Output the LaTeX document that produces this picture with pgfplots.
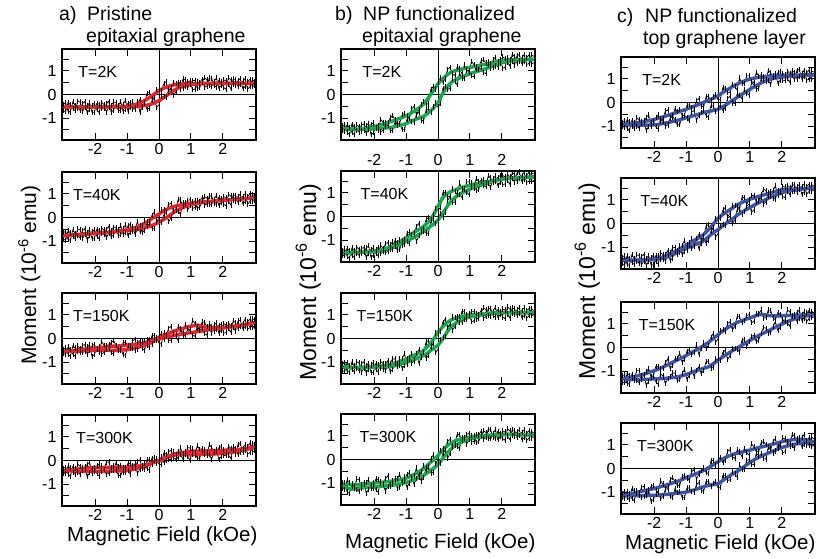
\documentclass[border=0pt]{standalone}
\usepackage{pgfplots}
\pgfplotsset{compat=1.18}
\usepackage{pgfplotstable}
\usepackage{fontspec}
\setmainfont{Liberation Sans}
\definecolor{fred}{RGB}{236,32,38}
\definecolor{fgreen}{RGB}{16,170,76}
\definecolor{fblue}{RGB}{58,84,168}

% ---------- fitted loops (x, upper branch, lower branch) ----------
\pgfplotstableread{
x fu fd
-3.00 -0.53 -0.53
-2.85 -0.53 -0.53
-2.70 -0.53 -0.53
-2.55 -0.53 -0.53
-2.40 -0.53 -0.53
-2.25 -0.53 -0.53
-2.10 -0.53 -0.53
-1.95 -0.53 -0.53
-1.80 -0.53 -0.53
-1.65 -0.53 -0.53
-1.50 -0.52 -0.53
-1.35 -0.52 -0.53
-1.20 -0.51 -0.53
-1.05 -0.50 -0.52
-0.90 -0.47 -0.52
-0.75 -0.43 -0.51
-0.60 -0.36 -0.50
-0.45 -0.26 -0.47
-0.30 -0.13 -0.43
-0.15 0.02 -0.36
0.00 0.16 -0.26
0.15 0.27 -0.13
0.30 0.35 0.02
0.45 0.40 0.16
0.60 0.43 0.27
0.75 0.45 0.35
0.90 0.46 0.40
1.05 0.46 0.43
1.20 0.47 0.45
1.35 0.47 0.46
1.50 0.47 0.46
1.65 0.47 0.47
1.80 0.47 0.47
1.95 0.47 0.47
2.10 0.47 0.47
2.25 0.47 0.47
2.40 0.47 0.47
2.55 0.47 0.47
2.70 0.47 0.47
2.85 0.47 0.47
3.00 0.47 0.47
}\fAa
\pgfplotstableread{
x fu fd
-3.00 -0.77 -0.77
-2.85 -0.76 -0.76
-2.70 -0.74 -0.74
-2.55 -0.73 -0.73
-2.40 -0.71 -0.71
-2.25 -0.70 -0.70
-2.10 -0.68 -0.68
-1.95 -0.66 -0.67
-1.80 -0.65 -0.65
-1.65 -0.63 -0.64
-1.50 -0.61 -0.62
-1.35 -0.59 -0.60
-1.20 -0.56 -0.58
-1.05 -0.53 -0.56
-0.90 -0.48 -0.54
-0.75 -0.43 -0.52
-0.60 -0.35 -0.48
-0.45 -0.25 -0.44
-0.30 -0.12 -0.38
-0.15 0.02 -0.30
0.00 0.15 -0.20
0.15 0.28 -0.08
0.30 0.38 0.06
0.45 0.46 0.20
0.60 0.51 0.32
0.75 0.56 0.42
0.90 0.59 0.50
1.05 0.62 0.56
1.20 0.64 0.60
1.35 0.66 0.64
1.50 0.68 0.66
1.65 0.69 0.68
1.80 0.71 0.70
1.95 0.73 0.72
2.10 0.74 0.74
2.25 0.76 0.76
2.40 0.77 0.77
2.55 0.79 0.79
2.70 0.80 0.80
2.85 0.82 0.82
3.00 0.83 0.83
}\fAb
\pgfplotstableread{
x fu fd
-3.00 -0.55 -0.55
-2.85 -0.53 -0.54
-2.70 -0.51 -0.54
-2.55 -0.49 -0.53
-2.40 -0.46 -0.52
-2.25 -0.44 -0.51
-2.10 -0.41 -0.51
-1.95 -0.39 -0.50
-1.80 -0.37 -0.50
-1.65 -0.35 -0.50
-1.50 -0.33 -0.50
-1.35 -0.32 -0.50
-1.20 -0.31 -0.49
-1.05 -0.29 -0.48
-0.90 -0.27 -0.45
-0.75 -0.25 -0.40
-0.60 -0.22 -0.35
-0.45 -0.18 -0.30
-0.30 -0.14 -0.20
-0.15 -0.05 -0.11
0.00 0.05 -0.02
0.15 0.13 0.03
0.30 0.22 0.07
0.45 0.30 0.12
0.60 0.37 0.16
0.75 0.43 0.20
0.90 0.49 0.23
1.05 0.53 0.26
1.20 0.57 0.29
1.35 0.52 0.32
1.50 0.46 0.36
1.65 0.45 0.39
1.80 0.46 0.42
1.95 0.47 0.45
2.10 0.49 0.47
2.25 0.51 0.49
2.40 0.53 0.51
2.55 0.56 0.55
2.70 0.60 0.59
2.85 0.63 0.63
3.00 0.67 0.67
}\fAc
\pgfplotstableread{
x fu fd
-3.00 -0.43 -0.43
-2.85 -0.41 -0.44
-2.70 -0.38 -0.45
-2.55 -0.36 -0.45
-2.40 -0.34 -0.46
-2.25 -0.32 -0.46
-2.10 -0.30 -0.46
-1.95 -0.29 -0.46
-1.80 -0.29 -0.46
-1.65 -0.29 -0.45
-1.50 -0.29 -0.45
-1.35 -0.29 -0.44
-1.20 -0.28 -0.44
-1.05 -0.28 -0.43
-0.90 -0.27 -0.40
-0.75 -0.25 -0.35
-0.60 -0.22 -0.30
-0.45 -0.19 -0.24
-0.30 -0.14 -0.16
-0.15 -0.06 -0.08
0.00 0.02 -0.02
0.15 0.11 0.07
0.30 0.18 0.15
0.45 0.27 0.22
0.60 0.31 0.25
0.75 0.34 0.25
0.90 0.37 0.24
1.05 0.40 0.24
1.20 0.40 0.25
1.35 0.41 0.26
1.50 0.41 0.27
1.65 0.42 0.27
1.80 0.42 0.28
1.95 0.43 0.29
2.10 0.44 0.31
2.25 0.45 0.34
2.40 0.46 0.37
2.55 0.48 0.41
2.70 0.51 0.46
2.85 0.54 0.51
3.00 0.57 0.57
}\fAd
\pgfplotstableread{
x fu fd
-3.00 -1.43 -1.43
-2.85 -1.45 -1.46
-2.70 -1.46 -1.48
-2.55 -1.47 -1.48
-2.40 -1.45 -1.48
-2.25 -1.42 -1.47
-2.10 -1.38 -1.46
-1.95 -1.34 -1.45
-1.80 -1.29 -1.43
-1.65 -1.23 -1.42
-1.50 -1.16 -1.40
-1.35 -1.09 -1.36
-1.20 -1.01 -1.31
-1.05 -0.94 -1.26
-0.90 -0.84 -1.17
-0.75 -0.71 -1.08
-0.60 -0.57 -1.00
-0.45 -0.40 -0.92
-0.30 -0.14 -0.78
-0.15 0.15 -0.58
0.00 0.45 -0.35
0.15 0.68 0.05
0.30 0.85 0.35
0.45 0.97 0.55
0.60 1.03 0.65
0.75 1.08 0.74
0.90 1.13 0.83
1.05 1.16 0.91
1.20 1.20 0.97
1.35 1.25 1.03
1.50 1.29 1.10
1.65 1.33 1.17
1.80 1.38 1.25
1.95 1.43 1.33
2.10 1.45 1.37
2.25 1.46 1.41
2.40 1.47 1.44
2.55 1.47 1.45
2.70 1.48 1.47
2.85 1.49 1.48
3.00 1.50 1.50
}\fBa
\pgfplotstableread{
x fu fd
-3.00 -1.54 -1.54
-2.85 -1.53 -1.54
-2.70 -1.52 -1.54
-2.55 -1.51 -1.53
-2.40 -1.50 -1.52
-2.25 -1.49 -1.51
-2.10 -1.48 -1.50
-1.95 -1.46 -1.48
-1.80 -1.42 -1.45
-1.65 -1.37 -1.41
-1.50 -1.30 -1.36
-1.35 -1.20 -1.29
-1.20 -1.08 -1.20
-1.05 -0.94 -1.09
-0.90 -0.80 -0.99
-0.75 -0.67 -0.88
-0.60 -0.55 -0.76
-0.45 -0.42 -0.63
-0.30 -0.22 -0.48
-0.15 0.05 -0.33
0.00 0.44 -0.15
0.15 0.80 0.14
0.30 0.98 0.45
0.45 1.08 0.71
0.60 1.16 0.87
0.75 1.23 1.00
0.90 1.29 1.10
1.05 1.35 1.19
1.20 1.39 1.26
1.35 1.43 1.33
1.50 1.47 1.40
1.65 1.50 1.46
1.80 1.53 1.52
1.95 1.57 1.57
2.10 1.60 1.60
2.25 1.62 1.62
2.40 1.64 1.64
2.55 1.65 1.65
2.70 1.66 1.66
2.85 1.67 1.67
3.00 1.68 1.68
}\fBb
\pgfplotstableread{
x fu fd
-3.00 -1.20 -1.20
-2.85 -1.21 -1.22
-2.70 -1.22 -1.23
-2.55 -1.22 -1.24
-2.40 -1.22 -1.24
-2.25 -1.21 -1.23
-2.10 -1.20 -1.22
-1.95 -1.19 -1.21
-1.80 -1.17 -1.21
-1.65 -1.14 -1.21
-1.50 -1.10 -1.20
-1.35 -1.04 -1.16
-1.20 -0.97 -1.10
-1.05 -0.90 -1.04
-0.90 -0.81 -0.97
-0.75 -0.71 -0.89
-0.60 -0.62 -0.81
-0.45 -0.50 -0.72
-0.30 -0.30 -0.58
-0.15 -0.05 -0.43
0.00 0.26 -0.28
0.15 0.50 -0.02
0.30 0.69 0.30
0.45 0.81 0.55
0.60 0.89 0.68
0.75 0.94 0.78
0.90 0.98 0.88
1.05 1.01 0.94
1.20 1.03 0.97
1.35 1.05 1.00
1.50 1.07 1.03
1.65 1.08 1.05
1.80 1.09 1.07
1.95 1.10 1.08
2.10 1.10 1.09
2.25 1.10 1.10
2.40 1.10 1.10
2.55 1.10 1.10
2.70 1.10 1.10
2.85 1.10 1.10
3.00 1.10 1.10
}\fBc
\pgfplotstableread{
x fu fd
-3.00 -1.07 -1.08
-2.85 -1.07 -1.20
-2.70 -1.07 -1.26
-2.55 -1.07 -1.22
-2.40 -1.05 -1.20
-2.25 -1.03 -1.18
-2.10 -1.01 -1.17
-1.95 -0.99 -1.16
-1.80 -0.97 -1.14
-1.65 -0.95 -1.12
-1.50 -0.93 -1.11
-1.35 -0.90 -1.07
-1.20 -0.86 -1.03
-1.05 -0.81 -0.99
-0.90 -0.74 -0.93
-0.75 -0.63 -0.86
-0.60 -0.53 -0.77
-0.45 -0.38 -0.67
-0.30 -0.20 -0.53
-0.15 -0.02 -0.38
0.00 0.17 -0.21
0.15 0.40 0.05
0.30 0.60 0.30
0.45 0.73 0.50
0.60 0.82 0.63
0.75 0.88 0.74
0.90 0.93 0.83
1.05 0.97 0.89
1.20 0.99 0.93
1.35 1.01 0.96
1.50 1.03 0.99
1.65 1.04 1.01
1.80 1.05 1.03
1.95 1.06 1.05
2.10 1.07 1.06
2.25 1.07 1.07
2.40 1.07 1.07
2.55 1.06 1.06
2.70 1.05 1.05
2.85 1.04 1.04
3.00 1.03 1.03
}\fBd
\pgfplotstableread{
x fu fd
-3.00 -0.93 -0.93
-2.85 -0.91 -0.95
-2.70 -0.89 -0.96
-2.55 -0.86 -0.96
-2.40 -0.82 -0.96
-2.25 -0.79 -0.96
-2.10 -0.75 -0.95
-1.95 -0.70 -0.94
-1.80 -0.64 -0.91
-1.65 -0.58 -0.87
-1.50 -0.51 -0.83
-1.35 -0.45 -0.78
-1.20 -0.38 -0.73
-1.05 -0.31 -0.67
-0.90 -0.24 -0.61
-0.75 -0.16 -0.55
-0.60 -0.08 -0.49
-0.45 0.01 -0.43
-0.30 0.09 -0.38
-0.15 0.18 -0.34
0.00 0.29 -0.29
0.15 0.42 -0.18
0.30 0.55 -0.05
0.45 0.67 0.08
0.60 0.78 0.22
0.75 0.87 0.35
0.90 0.95 0.47
1.05 1.01 0.60
1.20 1.05 0.72
1.35 1.08 0.83
1.50 1.11 0.92
1.65 1.13 0.99
1.80 1.14 1.04
1.95 1.15 1.07
2.10 1.15 1.09
2.25 1.16 1.11
2.40 1.16 1.13
2.55 1.16 1.14
2.70 1.17 1.15
2.85 1.17 1.16
3.00 1.17 1.17
}\fCa
\pgfplotstableread{
x fu fd
-3.00 -1.56 -1.56
-2.85 -1.56 -1.57
-2.70 -1.55 -1.57
-2.55 -1.55 -1.57
-2.40 -1.54 -1.56
-2.25 -1.53 -1.55
-2.10 -1.52 -1.54
-1.95 -1.50 -1.52
-1.80 -1.45 -1.49
-1.65 -1.38 -1.44
-1.50 -1.29 -1.37
-1.35 -1.19 -1.28
-1.20 -1.09 -1.18
-1.05 -0.96 -1.08
-0.90 -0.84 -1.00
-0.75 -0.72 -0.91
-0.60 -0.60 -0.83
-0.45 -0.46 -0.74
-0.30 -0.27 -0.56
-0.15 -0.03 -0.40
0.00 0.21 -0.26
0.15 0.38 -0.10
0.30 0.52 0.05
0.45 0.65 0.19
0.60 0.79 0.35
0.75 0.89 0.48
0.90 0.98 0.60
1.05 1.05 0.72
1.20 1.12 0.83
1.35 1.18 0.93
1.50 1.24 1.02
1.65 1.30 1.12
1.80 1.36 1.20
1.95 1.42 1.29
2.10 1.44 1.35
2.25 1.45 1.39
2.40 1.46 1.42
2.55 1.47 1.45
2.70 1.48 1.47
2.85 1.49 1.49
3.00 1.50 1.50
}\fCb
\pgfplotstableread{
x fu fd
-3.00 -1.32 -1.32
-2.85 -1.29 -1.34
-2.70 -1.25 -1.35
-2.55 -1.21 -1.36
-2.40 -1.16 -1.36
-2.25 -1.10 -1.35
-2.10 -1.03 -1.34
-1.95 -0.96 -1.33
-1.80 -0.87 -1.32
-1.65 -0.78 -1.31
-1.50 -0.68 -1.29
-1.35 -0.58 -1.26
-1.20 -0.48 -1.22
-1.05 -0.38 -1.17
-0.90 -0.26 -1.10
-0.75 -0.15 -1.02
-0.60 -0.04 -0.95
-0.45 0.08 -0.88
-0.30 0.22 -0.82
-0.15 0.38 -0.69
0.00 0.54 -0.54
0.15 0.70 -0.40
0.30 0.84 -0.27
0.45 0.96 -0.14
0.60 1.06 -0.02
0.75 1.14 0.10
0.90 1.21 0.22
1.05 1.28 0.34
1.20 1.36 0.45
1.35 1.40 0.56
1.50 1.38 0.66
1.65 1.35 0.76
1.80 1.34 0.86
1.95 1.34 0.96
2.10 1.35 1.06
2.25 1.36 1.14
2.40 1.37 1.21
2.55 1.38 1.27
2.70 1.38 1.32
2.85 1.39 1.36
3.00 1.39 1.39
}\fCc
\pgfplotstableread{
x fu fd
-3.00 -1.14 -1.14
-2.85 -1.10 -1.15
-2.70 -1.06 -1.15
-2.55 -1.01 -1.15
-2.40 -0.97 -1.15
-2.25 -0.92 -1.15
-2.10 -0.88 -1.14
-1.95 -0.83 -1.14
-1.80 -0.77 -1.12
-1.65 -0.71 -1.10
-1.50 -0.65 -1.08
-1.35 -0.58 -1.06
-1.20 -0.51 -1.04
-1.05 -0.42 -1.01
-0.90 -0.34 -0.97
-0.75 -0.26 -0.91
-0.60 -0.17 -0.84
-0.45 -0.08 -0.77
-0.30 0.03 -0.72
-0.15 0.16 -0.68
0.00 0.29 -0.64
0.15 0.41 -0.51
0.30 0.51 -0.37
0.45 0.59 -0.24
0.60 0.65 -0.12
0.75 0.70 0.01
0.90 0.75 0.16
1.05 0.80 0.30
1.20 0.86 0.42
1.35 0.91 0.52
1.50 0.96 0.61
1.65 1.01 0.70
1.80 1.06 0.78
1.95 1.12 0.87
2.10 1.17 0.93
2.25 1.20 0.98
2.40 1.23 1.03
2.55 1.24 1.06
2.70 1.22 1.09
2.85 1.18 1.10
3.00 1.14 1.14
}\fCd

% ---------- measured data (x, upper sweep, lower sweep) ----------
\pgfplotstableread{
x nu nd
-3.00 -0.41 -0.68
-2.925 -0.35 -0.73
-2.85 -0.71 -0.33
-2.775 -0.74 -0.44
-2.70 -0.31 -0.61
-2.625 -0.46 -0.69
-2.55 -0.58 -0.29
-2.475 -0.67 -0.32
-2.40 -0.38 -0.72
-2.325 -0.30 -0.56
-2.25 -0.78 -0.46
-2.175 -0.62 -0.36
-2.10 -0.45 -0.75
-2.025 -0.37 -0.76
-1.95 -0.65 -0.37
-1.875 -0.77 -0.41
-1.80 -0.33 -0.57
-1.725 -0.42 -0.61
-1.65 -0.75 -0.40
-1.575 -0.55 -0.28
-1.50 -0.47 -0.74
-1.425 -0.32 -0.67
-1.35 -0.34 -0.43
-1.275 -0.69 -0.47
-1.20 -0.66 -0.30
-1.125 -0.41 -0.71
-1.05 -0.25 -0.64
-0.975 -0.70 -0.37
-0.90 -0.55 -0.34
-0.825 -0.31 -0.63
-0.75 -0.63 -0.57
-0.675 -0.38 -0.28
-0.60 -0.22 -0.74
-0.525 -0.50 -0.53
-0.45 -0.36 -0.36
-0.375 0.05 -0.63
-0.30 0.09 -0.57
-0.225 -0.17 -0.27
-0.15 -0.14 -0.15
-0.075 0.22 -0.55
0.00 0.22 -0.44
0.075 0.15 -0.10
0.15 0.46 -0.08
0.225 0.53 -0.13
0.30 0.11 0.19
0.375 0.23 0.28
0.45 0.50 -0.04
0.525 0.47 0.10
0.60 0.37 0.52
0.675 0.21 0.51
0.75 0.66 0.26
0.825 0.63 0.36
0.90 0.29 0.54
0.975 0.44 0.58
1.05 0.59 0.20
1.125 0.59 0.23
1.20 0.26 0.53
1.275 0.29 0.50
1.35 0.51 0.65
1.425 0.71 0.31
1.50 0.63 0.35
1.575 0.37 0.70
1.65 0.34 0.69
1.725 0.55 0.38
1.80 0.71 0.31
1.875 0.27 0.61
1.95 0.38 0.53
2.025 0.62 0.30
2.10 0.58 0.22
2.175 0.41 0.71
2.25 0.24 0.62
2.325 0.66 0.43
2.40 0.64 0.40
2.475 0.34 0.58
2.55 0.43 0.68
2.625 0.57 0.25
2.70 0.67 0.34
2.775 0.23 0.55
2.85 0.33 0.65
2.925 0.63 0.34
3.00 0.56 0.37
}\nAa
\pgfplotstableread{
x nu nd
-3.00 -0.92 -0.65
-2.925 -0.96 -0.58
-2.85 -0.56 -0.94
-2.775 -0.66 -0.96
-2.70 -0.82 -0.52
-2.625 -0.90 -0.67
-2.55 -0.49 -0.78
-2.475 -0.51 -0.86
-2.40 -0.90 -0.56
-2.325 -0.73 -0.47
-2.25 -0.63 -0.95
-2.175 -0.52 -0.78
-2.10 -0.90 -0.60
-2.025 -0.90 -0.52
-1.95 -0.50 -0.79
-1.875 -0.54 -0.90
-1.80 -0.69 -0.45
-1.725 -0.72 -0.53
-1.65 -0.50 -0.86
-1.575 -0.37 -0.66
-1.50 -0.82 -0.57
-1.425 -0.74 -0.41
-1.35 -0.49 -0.42
-1.275 -0.52 -0.76
-1.20 -0.33 -0.73
-1.125 -0.73 -0.48
-1.05 -0.65 -0.31
-0.975 -0.35 -0.77
-0.90 -0.30 -0.62
-0.825 -0.57 -0.39
-0.75 -0.49 -0.72
-0.675 -0.17 -0.48
-0.60 -0.59 -0.34
-0.525 -0.35 -0.65
-0.45 -0.14 -0.54
-0.375 -0.36 -0.16
-0.30 -0.26 -0.16
-0.225 0.08 -0.45
-0.15 0.23 -0.46
-0.075 -0.16 -0.12
0.00 -0.03 -0.14
0.075 0.32 -0.21
0.15 0.33 0.11
0.225 0.26 0.21
0.30 0.55 -0.18
0.375 0.61 -0.02
0.45 0.26 0.30
0.525 0.36 0.31
0.60 0.76 0.26
0.675 0.74 0.14
0.75 0.47 0.63
0.825 0.56 0.63
0.90 0.73 0.33
0.975 0.76 0.51
1.05 0.39 0.69
1.125 0.42 0.70
1.20 0.72 0.39
1.275 0.69 0.44
1.35 0.85 0.68
1.425 0.52 0.89
1.50 0.57 0.82
1.575 0.91 0.57
1.65 0.91 0.55
1.725 0.61 0.77
1.80 0.55 0.94
1.875 0.86 0.51
1.95 0.79 0.63
2.025 0.57 0.88
2.10 0.49 0.85
2.175 0.99 0.69
2.25 0.91 0.53
2.325 0.72 0.95
2.40 0.70 0.94
2.475 0.89 0.65
2.55 1.00 0.75
2.625 0.58 0.90
2.70 0.67 1.00
2.775 0.89 0.57
2.85 1.00 0.68
2.925 0.69 0.98
3.00 0.73 0.92
}\nAb
\pgfplotstableread{
x nu nd
-3.00 -0.46 -0.65
-2.925 -0.38 -0.67
-2.85 -0.67 -0.36
-2.775 -0.76 -0.46
-2.70 -0.31 -0.67
-2.625 -0.40 -0.75
-2.55 -0.53 -0.32
-2.475 -0.61 -0.41
-2.40 -0.29 -0.59
-2.325 -0.26 -0.55
-2.25 -0.67 -0.36
-2.175 -0.49 -0.27
-2.10 -0.30 -0.76
-2.025 -0.25 -0.67
-1.95 -0.48 -0.44
-1.875 -0.58 -0.36
-1.80 -0.13 -0.66
-1.725 -0.28 -0.59
-1.65 -0.48 -0.28
-1.575 -0.44 -0.27
-1.50 -0.17 -0.61
-1.425 -0.09 -0.65
-1.35 -0.28 -0.31
-1.275 -0.50 -0.45
-1.20 -0.52 -0.41
-1.125 -0.18 -0.69
-1.05 -0.16 -0.71
-0.975 -0.30 -0.30
-0.90 -0.44 -0.31
-0.825 -0.09 -0.44
-0.75 -0.04 -0.49
-0.675 -0.47 -0.18
-0.60 -0.28 -0.10
-0.525 -0.15 -0.44
-0.45 -0.08 -0.50
-0.375 -0.31 -0.06
-0.30 -0.38 -0.03
-0.225 0.12 -0.23
-0.15 0.14 -0.06
-0.075 -0.07 0.04
0.00 0.11 -0.20
0.075 0.22 -0.24
0.15 -0.03 0.24
0.225 0.07 0.18
0.30 0.44 -0.07
0.375 0.51 -0.08
0.45 0.20 0.23
0.525 0.15 0.09
0.60 0.51 -0.08
0.675 0.42 0.40
0.75 0.23 0.14
0.825 0.60 0.11
0.90 0.41 0.41
0.975 0.29 0.39
1.05 0.78 0.14
1.125 0.64 0.09
1.20 0.42 0.52
1.275 0.38 0.36
1.35 0.70 0.42
1.425 0.69 0.20
1.50 0.51 0.15
1.575 0.43 0.63
1.65 0.23 0.52
1.725 0.57 0.32
1.80 0.66 0.38
1.875 0.23 0.56
1.95 0.35 0.61
2.025 0.64 0.23
2.10 0.57 0.25
2.175 0.41 0.65
2.25 0.26 0.56
2.325 0.75 0.47
2.40 0.68 0.32
2.475 0.41 0.74
2.55 0.51 0.79
2.625 0.65 0.41
2.70 0.82 0.51
2.775 0.41 0.70
2.85 0.45 0.83
2.925 0.83 0.45
3.00 0.79 0.52
}\nAc
\pgfplotstableread{
x nu nd
-3.00 -0.53 -0.34
-2.925 -0.55 -0.28
-2.85 -0.23 -0.58
-2.775 -0.32 -0.68
-2.70 -0.51 -0.25
-2.625 -0.59 -0.35
-2.55 -0.15 -0.49
-2.475 -0.24 -0.59
-2.40 -0.41 -0.29
-2.325 -0.37 -0.27
-2.25 -0.17 -0.69
-2.175 -0.07 -0.52
-2.10 -0.55 -0.35
-2.025 -0.47 -0.31
-1.95 -0.23 -0.55
-1.875 -0.15 -0.66
-1.80 -0.45 -0.22
-1.725 -0.38 -0.38
-1.65 -0.07 -0.58
-1.575 -0.06 -0.55
-1.50 -0.40 -0.29
-1.425 -0.44 -0.20
-1.35 -0.10 -0.40
-1.275 -0.24 -0.62
-1.20 -0.20 -0.65
-1.125 -0.49 -0.32
-1.05 -0.51 -0.30
-0.975 -0.12 -0.44
-0.90 -0.13 -0.57
-0.825 -0.28 -0.21
-0.75 -0.34 -0.14
-0.675 -0.04 -0.55
-0.60 0.03 -0.36
-0.525 -0.32 -0.22
-0.45 -0.39 -0.14
-0.375 0.03 -0.35
-0.30 0.03 -0.40
-0.225 -0.17 0.10
-0.15 -0.01 0.11
-0.075 0.08 -0.12
0.00 -0.16 0.04
0.075 -0.18 0.15
0.15 0.32 -0.09
0.225 0.27 0.00
0.30 0.04 0.37
0.375 0.04 0.43
0.45 0.38 0.12
0.525 0.24 0.05
0.60 0.07 0.39
0.675 0.54 0.27
0.75 0.28 0.05
0.825 0.25 0.38
0.90 0.55 0.16
0.975 0.53 0.02
1.05 0.28 0.49
1.125 0.21 0.33
1.20 0.63 0.10
1.275 0.46 0.09
1.35 0.51 0.44
1.425 0.27 0.46
1.50 0.20 0.32
1.575 0.67 0.24
1.65 0.55 0.05
1.725 0.34 0.39
1.80 0.38 0.48
1.875 0.54 0.04
1.95 0.59 0.17
2.025 0.21 0.46
2.10 0.22 0.39
2.175 0.61 0.23
2.25 0.52 0.09
2.325 0.43 0.59
2.40 0.27 0.52
2.475 0.68 0.25
2.55 0.72 0.36
2.625 0.34 0.51
2.70 0.43 0.68
2.775 0.61 0.27
2.85 0.74 0.33
2.925 0.36 0.72
3.00 0.42 0.69
}\nAd
\pgfplotstableread{
x nu nd
-3.00 -1.34 -1.53
-2.925 -1.28 -1.57
-2.85 -1.59 -1.28
-2.775 -1.70 -1.39
-2.70 -1.26 -1.61
-2.625 -1.37 -1.70
-2.55 -1.51 -1.27
-2.475 -1.59 -1.37
-2.40 -1.28 -1.55
-2.325 -1.25 -1.51
-2.25 -1.65 -1.32
-2.175 -1.46 -1.22
-2.10 -1.27 -1.71
-2.025 -1.21 -1.62
-1.95 -1.43 -1.39
-1.875 -1.52 -1.30
-1.80 -1.05 -1.59
-1.725 -1.18 -1.51
-1.65 -1.36 -1.20
-1.575 -1.30 -1.18
-1.50 -1.00 -1.51
-1.425 -0.89 -1.53
-1.35 -1.05 -1.17
-1.275 -1.23 -1.29
-1.20 -1.22 -1.23
-1.125 -0.86 -1.49
-1.05 -0.81 -1.49
-0.975 -0.91 -1.05
-0.90 -1.01 -1.03
-0.825 -0.61 -1.14
-0.75 -0.50 -1.17
-0.675 -0.87 -0.84
-0.60 -0.63 -0.75
-0.525 -0.44 -1.08
-0.45 -0.30 -1.12
-0.375 -0.42 -0.66
-0.30 -0.38 -0.61
-0.225 0.22 -0.75
-0.15 0.34 -0.53
-0.075 0.23 -0.36
0.00 0.51 -0.53
0.075 0.70 -0.39
0.15 0.52 0.26
0.225 0.66 0.33
0.30 1.07 0.21
0.375 1.16 0.27
0.45 0.87 0.66
0.525 0.81 0.55
0.60 1.17 0.41
0.675 1.08 0.91
0.75 0.88 0.68
0.825 1.25 0.67
0.90 1.05 1.01
0.975 0.93 1.02
1.05 1.41 0.79
1.125 1.27 0.75
1.20 1.05 1.20
1.275 1.06 1.06
1.35 1.43 1.13
1.425 1.47 0.92
1.50 1.34 0.89
1.575 1.28 1.38
1.65 1.11 1.30
1.725 1.47 1.13
1.80 1.58 1.21
1.875 1.17 1.41
1.95 1.31 1.49
2.025 1.60 1.12
2.10 1.53 1.15
2.175 1.37 1.56
2.25 1.21 1.48
2.325 1.70 1.39
2.40 1.62 1.25
2.475 1.33 1.65
2.55 1.42 1.69
2.625 1.55 1.30
2.70 1.70 1.39
2.775 1.28 1.56
2.85 1.31 1.68
2.925 1.68 1.29
3.00 1.62 1.35
}\nBa
\pgfplotstableread{
x nu nd
-3.00 -1.64 -1.45
-2.925 -1.66 -1.38
-2.85 -1.35 -1.68
-2.775 -1.44 -1.78
-2.70 -1.65 -1.34
-2.625 -1.73 -1.43
-2.55 -1.30 -1.57
-2.475 -1.39 -1.65
-2.40 -1.57 -1.35
-2.325 -1.53 -1.32
-2.25 -1.34 -1.74
-2.175 -1.24 -1.56
-2.10 -1.73 -1.39
-2.025 -1.64 -1.34
-1.95 -1.40 -1.57
-1.875 -1.30 -1.66
-1.80 -1.58 -1.21
-1.725 -1.49 -1.35
-1.65 -1.15 -1.54
-1.575 -1.11 -1.48
-1.50 -1.41 -1.20
-1.425 -1.40 -1.08
-1.35 -1.01 -1.25
-1.275 -1.10 -1.42
-1.20 -1.00 -1.41
-1.125 -1.22 -1.02
-1.05 -1.17 -0.96
-0.975 -0.71 -1.06
-0.90 -0.66 -1.16
-0.825 -0.76 -0.76
-0.75 -0.76 -0.67
-0.675 -0.41 -1.05
-0.60 -0.30 -0.82
-0.525 -0.60 -0.65
-0.45 -0.62 -0.53
-0.375 -0.13 -0.70
-0.30 -0.05 -0.72
-0.225 -0.15 -0.18
-0.15 0.10 -0.14
-0.075 0.34 -0.31
0.00 0.26 -0.09
0.075 0.38 0.13
0.15 1.01 -0.02
0.225 1.02 0.19
0.30 0.84 0.67
0.375 0.85 0.83
0.45 1.19 0.61
0.525 1.07 0.60
0.60 0.92 1.01
0.675 1.42 0.95
0.75 1.17 0.80
0.825 1.15 1.19
0.90 1.47 1.02
0.975 1.47 0.92
1.05 1.23 1.44
1.125 1.18 1.31
1.20 1.62 1.11
1.275 1.47 1.13
1.35 1.53 1.51
1.425 1.31 1.56
1.50 1.26 1.45
1.575 1.73 1.40
1.65 1.63 1.24
1.725 1.44 1.60
1.80 1.49 1.72
1.875 1.67 1.30
1.95 1.73 1.45
2.025 1.35 1.74
2.10 1.38 1.68
2.175 1.78 1.52
2.25 1.69 1.37
2.325 1.60 1.86
2.40 1.45 1.79
2.475 1.85 1.50
2.55 1.89 1.60
2.625 1.50 1.73
2.70 1.58 1.88
2.775 1.75 1.45
2.85 1.87 1.49
2.925 1.48 1.86
3.00 1.53 1.80
}\nBb
\pgfplotstableread{
x nu nd
-3.00 -1.08 -1.35
-2.925 -1.02 -1.41
-2.85 -1.39 -1.02
-2.775 -1.43 -1.13
-2.70 -1.00 -1.31
-2.625 -1.15 -1.40
-2.55 -1.27 -1.00
-2.475 -1.36 -1.03
-2.40 -1.07 -1.43
-2.325 -0.99 -1.27
-2.25 -1.46 -1.16
-2.175 -1.29 -1.05
-2.10 -1.12 -1.44
-2.025 -1.04 -1.45
-1.95 -1.31 -1.05
-1.875 -1.42 -1.09
-1.80 -0.97 -1.25
-1.725 -1.05 -1.29
-1.65 -1.36 -1.08
-1.575 -1.15 -0.95
-1.50 -1.05 -1.41
-1.425 -0.87 -1.32
-1.35 -0.86 -1.06
-1.275 -1.17 -1.07
-1.20 -1.12 -0.87
-1.125 -0.85 -1.26
-1.05 -0.65 -1.16
-0.975 -1.08 -0.85
-0.90 -0.89 -0.79
-0.825 -0.62 -1.04
-0.75 -0.91 -0.95
-0.675 -0.64 -0.63
-0.60 -0.48 -1.05
-0.525 -0.75 -0.81
-0.45 -0.60 -0.61
-0.375 -0.15 -0.83
-0.30 -0.08 -0.72
-0.225 -0.29 -0.37
-0.15 -0.21 -0.22
-0.075 0.23 -0.60
0.00 0.32 -0.46
0.075 0.31 -0.05
0.15 0.69 0.03
0.225 0.82 0.07
0.30 0.45 0.47
0.375 0.60 0.61
0.45 0.91 0.35
0.525 0.90 0.50
0.60 0.83 0.93
0.675 0.69 0.93
0.75 1.15 0.69
0.825 1.13 0.81
0.90 0.81 1.02
0.975 0.98 1.07
1.05 1.14 0.71
1.125 1.14 0.75
1.20 0.82 1.05
1.275 0.86 1.02
1.35 1.09 1.19
1.425 1.30 0.87
1.50 1.23 0.92
1.575 0.98 1.27
1.65 0.95 1.27
1.725 1.16 0.97
1.80 1.33 0.91
1.875 0.90 1.22
1.95 1.01 1.14
2.025 1.25 0.91
2.10 1.21 0.84
2.175 1.04 1.34
2.25 0.87 1.25
2.325 1.29 1.06
2.40 1.27 1.03
2.475 0.97 1.21
2.55 1.06 1.31
2.625 1.20 0.88
2.70 1.30 0.97
2.775 0.86 1.18
2.85 0.96 1.28
2.925 1.26 0.97
3.00 1.19 1.00
}\nBc
\pgfplotstableread{
x nu nd
-3.00 -1.22 -0.96
-2.925 -1.27 -0.96
-2.85 -0.87 -1.38
-2.775 -0.98 -1.44
-2.70 -1.15 -1.04
-2.625 -1.23 -1.17
-2.55 -0.83 -1.27
-2.475 -0.85 -1.35
-2.40 -1.24 -1.05
-2.325 -1.07 -0.96
-2.25 -0.96 -1.43
-2.175 -0.85 -1.27
-2.10 -1.23 -1.09
-2.025 -1.23 -1.00
-1.95 -0.83 -1.28
-1.875 -0.86 -1.39
-1.80 -1.01 -0.94
-1.725 -1.04 -1.02
-1.65 -0.82 -1.34
-1.575 -0.69 -1.15
-1.50 -1.14 -1.06
-1.425 -1.06 -0.89
-1.35 -0.80 -0.89
-1.275 -0.82 -1.22
-1.20 -0.63 -1.18
-1.125 -1.03 -0.92
-1.05 -0.93 -0.74
-0.975 -0.63 -1.18
-0.90 -0.56 -1.01
-0.825 -0.79 -0.76
-0.75 -0.69 -1.06
-0.675 -0.36 -0.80
-0.60 -0.77 -0.63
-0.525 -0.51 -0.91
-0.45 -0.27 -0.77
-0.375 -0.47 -0.35
-0.30 -0.34 -0.31
-0.225 0.02 -0.57
-0.15 0.19 -0.54
-0.075 -0.16 -0.17
0.00 -0.01 -0.15
0.075 0.38 -0.15
0.15 0.45 0.24
0.225 0.43 0.40
0.30 0.77 0.06
0.375 0.85 0.25
0.45 0.53 0.60
0.525 0.66 0.61
0.60 1.07 0.57
0.675 1.05 0.45
0.75 0.79 0.95
0.825 0.88 0.95
0.90 1.07 0.66
0.975 1.11 0.84
1.05 0.74 1.02
1.125 0.77 1.03
1.20 1.07 0.72
1.275 1.04 0.76
1.35 1.20 1.00
1.425 0.87 1.22
1.50 0.92 1.15
1.575 1.27 0.90
1.65 1.26 0.88
1.725 0.95 1.10
1.80 0.89 1.27
1.875 1.20 0.84
1.95 1.12 0.96
2.025 0.89 1.21
2.10 0.82 1.17
2.175 1.31 1.00
2.25 1.22 0.84
2.325 1.03 1.26
2.40 1.00 1.24
2.475 1.17 0.93
2.55 1.27 1.02
2.625 0.84 1.16
2.70 0.92 1.25
2.775 1.12 0.80
2.85 1.22 0.90
2.925 0.91 1.20
3.00 0.93 1.12
}\nBd
\pgfplotstableread{
x nu nd
-3.00 -1.03 -0.84
-2.925 -1.05 -0.78
-2.85 -0.73 -1.09
-2.775 -0.82 -1.20
-2.70 -1.02 -0.76
-2.625 -1.10 -0.86
-2.55 -0.65 -1.00
-2.475 -0.73 -1.09
-2.40 -0.89 -0.79
-2.325 -0.84 -0.77
-2.25 -0.64 -1.19
-2.175 -0.53 -1.02
-2.10 -1.00 -0.84
-2.025 -0.89 -0.79
-1.95 -0.64 -1.03
-1.875 -0.53 -1.12
-1.80 -0.80 -0.67
-1.725 -0.70 -0.81
-1.65 -0.36 -1.00
-1.575 -0.31 -0.95
-1.50 -0.62 -0.67
-1.425 -0.63 -0.56
-1.35 -0.26 -0.74
-1.275 -0.38 -0.94
-1.20 -0.30 -0.94
-1.125 -0.55 -0.58
-1.05 -0.54 -0.54
-0.975 -0.12 -0.66
-0.90 -0.10 -0.78
-0.825 -0.22 -0.41
-0.75 -0.25 -0.34
-0.675 0.08 -0.75
-0.60 0.17 -0.55
-0.525 -0.16 -0.41
-0.45 -0.19 -0.33
-0.375 0.24 -0.55
-0.30 0.26 -0.62
-0.225 0.07 -0.14
-0.15 0.23 -0.15
-0.075 0.34 -0.39
0.00 0.11 -0.23
0.075 0.12 -0.11
0.15 0.63 -0.34
0.225 0.61 -0.23
0.30 0.41 0.17
0.375 0.43 0.27
0.45 0.78 -0.02
0.525 0.67 -0.04
0.60 0.54 0.36
0.675 1.04 0.30
0.75 0.81 0.15
0.825 0.80 0.55
0.90 1.13 0.39
0.975 1.13 0.32
1.05 0.89 0.85
1.125 0.84 0.75
1.20 1.28 0.57
1.275 1.12 0.61
1.35 1.18 1.01
1.425 0.96 1.08
1.50 0.90 0.97
1.575 1.37 0.93
1.65 1.26 0.77
1.725 1.06 1.13
1.80 1.10 1.24
1.875 1.26 0.82
1.95 1.31 0.95
2.025 0.92 1.24
2.10 0.93 1.17
2.175 1.33 1.01
2.25 1.23 0.86
2.325 1.13 1.35
2.40 0.97 1.28
2.475 1.37 1.00
2.55 1.40 1.09
2.625 1.00 1.21
2.70 1.09 1.37
2.775 1.26 0.95
2.85 1.37 0.98
2.925 0.97 1.34
3.00 1.02 1.29
}\nCa
\pgfplotstableread{
x nu nd
-3.00 -1.44 -1.71
-2.925 -1.38 -1.76
-2.85 -1.74 -1.37
-2.775 -1.77 -1.48
-2.70 -1.33 -1.65
-2.625 -1.48 -1.73
-2.55 -1.60 -1.33
-2.475 -1.68 -1.35
-2.40 -1.39 -1.75
-2.325 -1.31 -1.59
-2.25 -1.78 -1.48
-2.175 -1.61 -1.37
-2.10 -1.44 -1.76
-2.025 -1.35 -1.76
-1.95 -1.62 -1.36
-1.875 -1.72 -1.38
-1.80 -1.25 -1.53
-1.725 -1.31 -1.54
-1.65 -1.60 -1.31
-1.575 -1.37 -1.15
-1.50 -1.24 -1.58
-1.425 -1.04 -1.46
-1.35 -1.01 -1.18
-1.275 -1.31 -1.17
-1.20 -1.24 -0.95
-1.125 -0.93 -1.32
-1.05 -0.71 -1.20
-0.975 -1.12 -0.89
-0.90 -0.92 -0.82
-0.825 -0.64 -1.07
-0.75 -0.92 -0.97
-0.675 -0.64 -0.65
-0.60 -0.46 -1.07
-0.525 -0.72 -0.83
-0.45 -0.56 -0.63
-0.375 -0.11 -0.83
-0.30 -0.05 -0.70
-0.225 -0.26 -0.35
-0.15 -0.19 -0.19
-0.075 0.22 -0.57
0.00 0.27 -0.44
0.075 0.23 -0.08
0.15 0.57 -0.05
0.225 0.67 -0.09
0.30 0.28 0.22
0.375 0.43 0.31
0.45 0.75 -0.01
0.525 0.77 0.15
0.60 0.73 0.60
0.675 0.61 0.62
0.75 1.10 0.39
0.825 1.11 0.52
0.90 0.81 0.74
0.975 1.00 0.82
1.05 1.18 0.49
1.125 1.20 0.57
1.20 0.91 0.91
1.275 0.97 0.92
1.35 1.22 1.12
1.425 1.45 0.83
1.50 1.40 0.91
1.575 1.17 1.30
1.65 1.17 1.34
1.725 1.41 1.07
1.80 1.60 1.04
1.875 1.19 1.38
1.95 1.33 1.35
2.025 1.58 1.15
2.10 1.55 1.10
2.175 1.38 1.61
2.25 1.22 1.54
2.325 1.65 1.36
2.40 1.63 1.35
2.475 1.33 1.55
2.55 1.43 1.66
2.625 1.58 1.24
2.70 1.68 1.34
2.775 1.24 1.56
2.85 1.35 1.67
2.925 1.66 1.37
3.00 1.59 1.40
}\nCb
\pgfplotstableread{
x nu nd
-3.00 -1.47 -1.20
-2.925 -1.50 -1.15
-2.85 -1.09 -1.52
-2.775 -1.18 -1.55
-2.70 -1.33 -1.13
-2.625 -1.39 -1.29
-2.55 -0.97 -1.41
-2.475 -0.97 -1.50
-2.40 -1.35 -1.21
-2.325 -1.16 -1.13
-2.25 -1.03 -1.60
-2.175 -0.89 -1.43
-2.10 -1.25 -1.26
-2.025 -1.23 -1.18
-1.95 -0.80 -1.45
-1.875 -0.80 -1.56
-1.80 -0.91 -1.12
-1.725 -0.90 -1.21
-1.65 -0.65 -1.53
-1.575 -0.48 -1.33
-1.50 -0.89 -1.24
-1.425 -0.77 -1.08
-1.35 -0.48 -1.08
-1.275 -0.47 -1.41
-1.20 -0.25 -1.37
-1.125 -0.62 -1.11
-1.05 -0.50 -0.92
-0.975 -0.17 -1.36
-0.90 -0.08 -1.18
-0.825 -0.31 -0.92
-0.75 -0.21 -1.22
-0.675 0.12 -0.96
-0.60 -0.28 -0.81
-0.525 -0.03 -1.11
-0.45 0.19 -0.98
-0.375 -0.03 -0.60
-0.30 0.08 -0.60
-0.225 0.43 -0.87
-0.15 0.59 -0.85
-0.075 0.22 -0.49
0.00 0.36 -0.48
0.075 0.72 -0.54
0.15 0.75 -0.21
0.225 0.70 -0.12
0.30 1.01 -0.51
0.375 1.09 -0.35
0.45 0.76 -0.04
0.525 0.89 -0.03
0.60 1.31 -0.08
0.675 1.30 -0.19
0.75 1.05 0.31
0.825 1.16 0.33
0.90 1.35 0.05
0.975 1.40 0.26
1.05 1.05 0.47
1.125 1.11 0.52
1.20 1.44 0.24
1.275 1.42 0.32
1.35 1.59 0.60
1.425 1.24 0.85
1.50 1.27 0.82
1.575 1.59 0.61
1.65 1.57 0.63
1.725 1.25 0.89
1.80 1.18 1.10
1.875 1.48 0.71
1.95 1.40 0.87
2.025 1.17 1.16
2.10 1.10 1.17
2.175 1.60 1.04
2.25 1.51 0.91
2.325 1.32 1.37
2.40 1.30 1.38
2.475 1.49 1.11
2.55 1.59 1.23
2.625 1.16 1.40
2.70 1.25 1.52
2.775 1.46 1.10
2.85 1.57 1.22
2.925 1.26 1.54
3.00 1.29 1.48
}\nCc
\pgfplotstableread{
x nu nd
-3.00 -1.05 -1.24
-2.925 -0.96 -1.27
-2.85 -1.24 -0.97
-2.775 -1.32 -1.07
-2.70 -0.86 -1.28
-2.625 -0.94 -1.37
-2.55 -1.05 -0.94
-2.475 -1.12 -1.04
-2.40 -0.80 -1.22
-2.325 -0.75 -1.19
-2.25 -1.15 -1.00
-2.175 -0.96 -0.90
-2.10 -0.77 -1.39
-2.025 -0.71 -1.31
-1.95 -0.92 -1.08
-1.875 -1.00 -0.99
-1.80 -0.53 -1.28
-1.725 -0.66 -1.20
-1.65 -0.84 -0.88
-1.575 -0.78 -0.86
-1.50 -0.49 -1.19
-1.425 -0.38 -1.22
-1.35 -0.54 -0.87
-1.275 -0.72 -1.01
-1.20 -0.72 -0.96
-1.125 -0.34 -1.23
-1.05 -0.29 -1.24
-0.975 -0.40 -0.83
-0.90 -0.51 -0.83
-0.825 -0.13 -0.96
-0.75 -0.05 -1.00
-0.675 -0.45 -0.68
-0.60 -0.23 -0.59
-0.525 -0.07 -0.92
-0.45 0.02 -0.97
-0.375 -0.17 -0.55
-0.30 -0.21 -0.55
-0.225 0.32 -0.77
-0.15 0.35 -0.63
-0.075 0.15 -0.56
0.00 0.35 -0.82
0.075 0.48 -0.82
0.15 0.25 -0.30
0.225 0.35 -0.31
0.30 0.73 -0.51
0.375 0.80 -0.48
0.45 0.49 -0.13
0.525 0.43 -0.23
0.60 0.79 -0.36
0.675 0.70 0.16
0.75 0.50 -0.05
0.825 0.86 -0.03
0.90 0.67 0.34
0.975 0.56 0.38
1.05 1.05 0.18
1.125 0.92 0.17
1.20 0.71 0.65
1.275 0.71 0.53
1.35 1.09 0.62
1.425 1.14 0.42
1.50 1.01 0.40
1.575 0.95 0.91
1.65 0.79 0.83
1.725 1.15 0.66
1.80 1.26 0.74
1.875 0.85 0.94
1.95 1.00 1.03
2.025 1.30 0.67
2.10 1.25 0.71
2.175 1.09 1.13
2.25 0.95 1.05
2.325 1.45 0.97
2.40 1.38 0.84
2.475 1.10 1.25
2.55 1.19 1.30
2.625 1.30 0.92
2.70 1.44 1.01
2.775 0.99 1.19
2.85 1.00 1.30
2.925 1.34 0.92
3.00 1.26 0.99
}\nCd

\pgfplotsset{
  panel/.style={
    anchor=north west, scale only axis, width=194pt, height=91pt,
    xmin=-3.04, xmax=3.04, ymin=-1.93, ymax=1.93,
    axis line style={line width=1.1pt},
    xtick={-2,-1,0,1,2}, xticklabels={-2,-1,0,1,2},
    ytick={-1.5,-1,-0.5,0,0.5,1,1.5}, yticklabels={,-1,,0,,1,},
    tick align=inside, xtick pos=both, ytick pos=both,
    xticklabel pos=left, yticklabel pos=left,
    major tick length=7pt,
    tick style={black, line width=1pt},
    ticklabel style={font=\fontsize{16}{19}\selectfont},
    yticklabel style={xshift=-2pt},
    clip=true,
  },
  noise/.style={black, line width=0.7pt, mark=|, mark size=2.6pt,
    mark options={line width=0.45pt}},
  fitl/.style={line width=3.4pt, smooth, no markers},
}
\tikzset{
  zl/.style={black, line width=0.9pt},
  tl/.style={anchor=west, inner sep=0pt, font=\fontsize{16}{19}\selectfont},
  ttl/.style={anchor=base west, inner sep=0pt, font=\fontsize{19.5}{23}\selectfont},
  xl/.style={anchor=base west, inner sep=0pt, font=\fontsize{20.5}{24}\selectfont},
  yl/.style={anchor=base, rotate=90, inner sep=0pt, font=\fontsize{21}{25}\selectfont},
  ylb/.style={anchor=base, rotate=90, inner sep=0pt, font=\fontsize{23}{27}\selectfont},
}

% left, top, noise table, fit table, colour, label, label x, extra options
\newcommand{\panel}[8]{%
\begin{axis}[panel, at={(#1pt,-#2pt)}, #8]
\draw[zl] (axis cs:-3.1,0) -- (axis cs:3.1,0);
\draw[zl] (axis cs:0,-2) -- (axis cs:0,2);
\addplot[noise] table[x=x,y=nu]{#3};
\addplot[noise] table[x=x,y=nd]{#3};
\addplot[fitl, color=#5] table[x=x,y=fu]{#4};
\addplot[fitl, color=#5] table[x=x,y=fd]{#4};
\node[tl] at (axis cs:#7,0.95) {#6};
\end{axis}}

\begin{document}
\begin{tikzpicture}
\useasboundingbox (0pt,0pt) rectangle (820pt,-558pt);
\panel{62}{49}{\nAa}{\fAa}{fred}{T=2K}{-2.53}{}
\panel{62}{172}{\nAb}{\fAb}{fred}{T=40K}{-2.70}{}
\panel{62}{293}{\nAc}{\fAc}{fred}{T=150K}{-2.70}{}
\panel{62}{415}{\nAd}{\fAd}{fred}{T=300K}{-2.60}{}
\panel{341}{49}{\nBa}{\fBa}{fgreen}{T=2K}{-2.37}{xticklabel style={yshift=-11pt}}
\panel{341}{171}{\nBb}{\fBb}{fgreen}{T=40K}{-2.43}{}
\panel{341}{293}{\nBc}{\fBc}{fgreen}{T=150K}{-2.56}{}
\panel{341}{414}{\nBd}{\fBd}{fgreen}{T=300K}{-2.46}{}
\panel{621}{57}{\nCa}{\fCa}{fblue}{T=2K}{-2.38}{}
\panel{621}{178}{\nCb}{\fCb}{fblue}{T=40K}{-2.43}{}
\panel{621}{302}{\nCc}{\fCc}{fblue}{T=150K}{-2.49}{}
\panel{621}{423}{\nCd}{\fCd}{fblue}{T=300K}{-2.54}{}

\node[ttl] at (59pt,-20pt) {a)};
\node[ttl] at (87pt,-20pt) {Pristine};
\node[ttl] at (86pt,-42pt) {epitaxial graphene};
\node[ttl] at (335pt,-20pt) {b)};
\node[ttl] at (363pt,-20pt) {NP functionalized};
\node[ttl] at (362pt,-42pt) {epitaxial graphene};
\node[ttl] at (617pt,-22pt) {c)};
\node[ttl] at (645pt,-22pt) {NP functionalized};
\node[ttl] at (643pt,-44pt) {top graphene layer};

\node[yl] at (36pt,-275pt) {Moment (10\textsuperscript{-6} emu)};
\node[ylb] at (316pt,-282pt) {Moment (10\textsuperscript{-6} emu)};
\node[ylb] at (595pt,-281pt) {Moment (10\textsuperscript{-6} emu)};

\node[xl] at (67pt,-541pt) {Magnetic Field (kOe)};
\node[xl] at (345pt,-548pt) {Magnetic Field (kOe)};
\node[xl] at (625pt,-549pt) {Magnetic Field (kOe)};
\end{tikzpicture}
\end{document}
